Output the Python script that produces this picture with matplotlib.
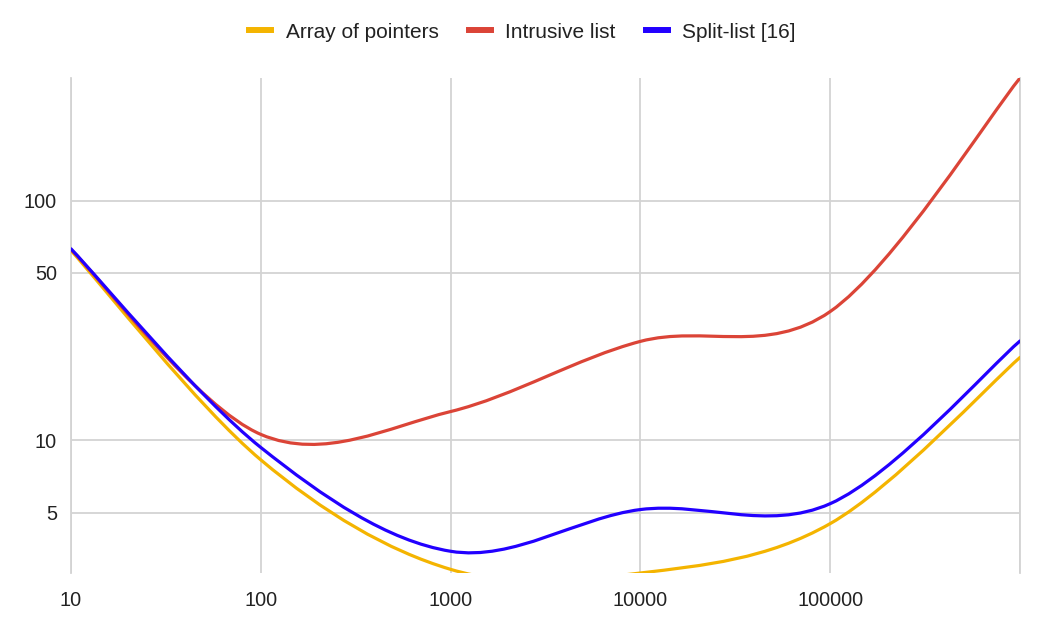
import numpy as np
import matplotlib
matplotlib.use('Agg')
import matplotlib.pyplot as plt
from matplotlib.path import Path
from matplotlib.patches import PathPatch
from matplotlib.lines import Line2D

plt.rcParams['font.family'] = ['Liberation Sans', 'DejaVu Sans']

# data, x is log-spaced
sizes = [10, 100, 1000, 10000, 100000, 1000000]
array_of_pointers = [62, 8.3, 2.9, 2.8, 4.5, 22.2]
intrusive_list = [62.5, 10.6, 13.2, 25.9, 34.5, 325]
split_list = [63, 9.35, 3.45, 5.15, 5.45, 26.0]

labels = ['Array of pointers', 'Intrusive list', 'Split-list [16]']
colors = ['#f4b400', '#db4437', '#2200ff']
xtick_labels = ['10', '100', '1000', '10000', '100000', '']
ytick_vals = [5, 10, 50, 100]


def smooth_path(xs, ys):
    # catmull-rom style bezier in log-log space (like the "smooth" line option)
    lx = np.log10(xs)
    ly = np.log10(ys)
    pts = np.column_stack([lx, ly])
    n = len(pts)
    verts = [pts[0]]
    codes = [Path.MOVETO]
    for i in range(n - 1):
        p_prev = pts[max(i - 1, 0)]
        p0 = pts[i]
        p1 = pts[i + 1]
        p_next = pts[min(i + 2, n - 1)]
        c1 = p0 + (p1 - p_prev) / 6.0
        c2 = p1 - (p_next - p0) / 6.0
        verts += [c1, c2, p1]
        codes += [Path.CURVE4] * 3
    verts = 10 ** np.array(verts)
    return Path(verts, codes)


fig = plt.figure(figsize=(10.37, 6.33), dpi=100)
ax = fig.add_axes([71 / 1037, 1 - 573 / 633, (1020 - 71) / 1037, (573 - 78) / 633])
ax.set_xscale('log')
ax.set_yscale('log')

all_vals = array_of_pointers + intrusive_list + split_list
ax.set_xlim(min(sizes), max(sizes))
ax.set_ylim(min(all_vals), max(all_vals))

for vals, c in zip([array_of_pointers, intrusive_list, split_list], colors):
    patch = PathPatch(smooth_path(sizes, vals), fill=False, edgecolor=c,
                      lw=2.3, capstyle='round', joinstyle='round', zorder=3)
    ax.add_patch(patch)

ax.set_xticks(sizes)
ax.set_xticklabels(xtick_labels)
ax.set_yticks(ytick_vals)
ax.set_yticklabels([str(v) for v in ytick_vals])
ax.minorticks_off()
ax.tick_params(length=0, labelsize=14.3, colors='#222222')
ax.tick_params(axis='x', pad=13)
ax.tick_params(axis='y', pad=10)
ax.grid(True, color='#d3d3d3', lw=1.3)
ax.set_axisbelow(True)
for s in ['top', 'bottom']:
    ax.spines[s].set_visible(False)
for s in ['left', 'right']:
    ax.spines[s].set_color('#d3d3d3')
    ax.spines[s].set_linewidth(1.3)

handles = [Line2D([], [], color=c, lw=4.3) for c in colors]
fig.legend(handles, labels, loc='center', bbox_to_anchor=(0.504, 1 - 32 / 633),
           ncol=3, frameon=False, fontsize=15, handlelength=1.05,
           handletextpad=0.7, columnspacing=1.45, labelcolor='#222222')

fig.savefig('out.png', dpi=100)
